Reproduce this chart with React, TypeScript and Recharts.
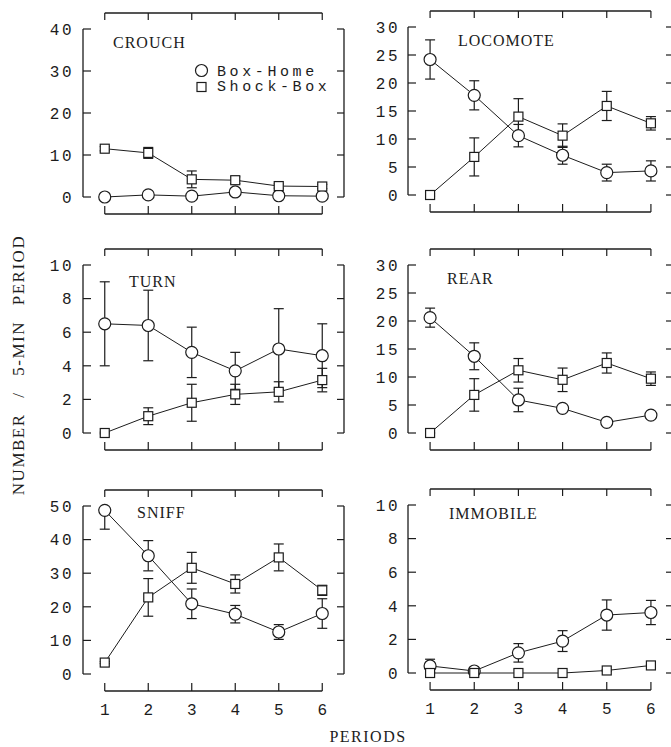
import React from 'react';
import { LineChart, Line, XAxis, YAxis, ErrorBar, ReferenceLine } from 'recharts';

// ---------- data ----------
const periods = [1, 2, 3, 4, 5, 6];
const seriesNames = ['Box-Home', 'Shock-Box'];
const xTitle = 'PERIODS';
const yTitle = 'NUMBER / 5-MIN PERIOD';

type Err = number | [number, number];

const crouchTicks = [0, 10, 20, 30, 40];
const crouchBoxHome = [0, 0.5, 0.2, 1.2, 0.3, 0.2];
const crouchBoxHomeErr: Err[] = [0.3, 0.3, 0.3, 0.4, 0.3, 0.3];
const crouchShockBox = [11.5, 10.5, 4.2, 4.0, 2.6, 2.5];
const crouchShockBoxErr: Err[] = [0.5, 1.3, 2.0, 0.8, 0.5, 0.5];

const locomoteTicks = [0, 5, 10, 15, 20, 25, 30];
const locomoteBoxHome = [24.2, 17.8, 10.6, 7.1, 4.0, 4.3];
const locomoteBoxHomeErr: Err[] = [3.5, 2.6, 2.0, 1.6, 1.5, 1.8];
const locomoteShockBox = [0, 6.8, 14.0, 10.6, 15.9, 12.8];
const locomoteShockBoxErr: Err[] = [0.2, 3.4, 3.2, 2.1, 2.6, 1.2];

const turnTicks = [0, 2, 4, 6, 8, 10];
const turnBoxHome = [6.5, 6.4, 4.8, 3.7, 5.0, 4.6];
const turnBoxHomeErr: Err[] = [2.5, 2.1, 1.5, 1.1, 2.4, 1.9];
const turnShockBox = [0, 1.0, 1.8, 2.3, 2.45, 3.15];
const turnShockBoxErr: Err[] = [0.05, 0.5, 1.1, 0.6, 0.6, 0.7];

const rearTicks = [0, 5, 10, 15, 20, 25, 30];
const rearBoxHome = [20.6, 13.7, 5.9, 4.4, 1.9, 3.2];
const rearBoxHomeErr: Err[] = [1.7, 2.4, 2.1, 0.5, 0.4, 0.5];
const rearShockBox = [0, 6.8, 11.2, 9.5, 12.5, 9.7];
const rearShockBoxErr: Err[] = [0.1, 2.9, 2.1, 2.1, 1.8, 1.2];

const sniffTicks = [0, 10, 20, 30, 40, 50];
const sniffBoxHome = [48.7, 35.2, 20.9, 17.8, 12.5, 18.0];
const sniffBoxHomeErr: Err[] = [[5.6, 0], 4.5, 4.4, 2.6, 2.2, 4.4];
const sniffShockBox = [3.4, 22.8, 31.6, 26.8, 34.7, 24.9];
const sniffShockBoxErr: Err[] = [0.3, 5.6, 4.6, 2.7, 4.0, 1.5];

const immobileTicks = [0, 2, 4, 6, 8, 10];
const immobileBoxHome = [0.42, 0.12, 1.2, 1.9, 3.45, 3.6];
const immobileBoxHomeErr: Err[] = [0.4, 0.15, 0.55, 0.62, 0.9, 0.72];
const immobileShockBox = [0, 0, 0, 0, 0.15, 0.45];
const immobileShockBoxErr: Err[] = [0.05, 0.05, 0, 0, 0.05, 0.05];

// ---------- style / layout ----------
const INK = '#1c1c1c';
const MONO = '"Liberation Mono", "DejaVu Sans Mono", monospace';
const SERIF = '"Liberation Serif", "DejaVu Serif", serif';
const TOP_PAD = 16;
const BOT_PAD = 17;
const SPAN = 168;
const PLOT_H = TOP_PAD + SPAN + BOT_PAD;
const M_TOP = 10;
const X_AXIS_H = 30;
const CHART_H = M_TOP + PLOT_H + X_AXIS_H + 5;
const EPS = 1e-4;

interface PanelSpec {
  title: string;
  ticks: number[];
  bh: number[];
  bhErr: Err[];
  sb: number[];
  sbErr: Err[];
  col: 0 | 1;
  plotTop: number;
  titleX: number;
  titleY: number;
  showX: boolean;
}

const panels: PanelSpec[] = [
  { title: 'CROUCH', ticks: crouchTicks, bh: crouchBoxHome, bhErr: crouchBoxHomeErr, sb: crouchShockBox, sbErr: crouchShockBoxErr, col: 0, plotTop: 13, titleX: 113, titleY: 48, showX: false },
  { title: 'LOCOMOTE', ticks: locomoteTicks, bh: locomoteBoxHome, bhErr: locomoteBoxHomeErr, sb: locomoteShockBox, sbErr: locomoteShockBoxErr, col: 1, plotTop: 11, titleX: 458, titleY: 46, showX: false },
  { title: 'TURN', ticks: turnTicks, bh: turnBoxHome, bhErr: turnBoxHomeErr, sb: turnShockBox, sbErr: turnShockBoxErr, col: 0, plotTop: 249, titleX: 129, titleY: 287, showX: false },
  { title: 'REAR', ticks: rearTicks, bh: rearBoxHome, bhErr: rearBoxHomeErr, sb: rearShockBox, sbErr: rearShockBoxErr, col: 1, plotTop: 249, titleX: 447, titleY: 284, showX: false },
  { title: 'SNIFF', ticks: sniffTicks, bh: sniffBoxHome, bhErr: sniffBoxHomeErr, sb: sniffShockBox, sbErr: sniffShockBoxErr, col: 0, plotTop: 490, titleX: 137, titleY: 518, showX: true },
  { title: 'IMMOBILE', ticks: immobileTicks, bh: immobileBoxHome, bhErr: immobileBoxHomeErr, sb: immobileShockBox, sbErr: immobileShockBoxErr, col: 1, plotTop: 489, titleX: 449, titleY: 519, showX: true },
];

const COLS = [
  { left: 0, yAxisW: 83, plotW: 261, gap: 9 },
  { left: 330, yAxisW: 78, plotW: 265, gap: 8 },
];

const SquareDot = (props: any) => {
  const { cx, cy, index } = props;
  if (cx == null || cy == null) return <g key={`sq-${index}`} />;
  const x = Number(cx);
  const y = Number(cy);
  return <rect key={`sq-${index}`} x={x - 4.5} y={y - 4.5} width={9} height={9} fill="#fff" stroke={INK} strokeWidth={1.2} />;
};

const CircleDot = (props: any) => {
  const { cx, cy, index } = props;
  if (cx == null || cy == null) return <g key={`ci-${index}`} />;
  return <circle key={`ci-${index}`} cx={Number(cx)} cy={Number(cy)} r={6} fill="#fff" stroke={INK} strokeWidth={1.2} />;
};

function Panel({ spec }: { spec: PanelSpec }) {
  const col = COLS[spec.col];
  const max = spec.ticks[spec.ticks.length - 1];
  const unit = max / SPAN;
  const yDomain: [number, number] = [-BOT_PAD * unit, max + TOP_PAD * unit];
  const xDomain: [number, number] = [0.5, 6.5];
  const data = periods.map((p, i) => ({
    p,
    bh: spec.bh[i],
    bhErr: spec.bhErr[i],
    sb: spec.sb[i],
    sbErr: spec.sbErr[i],
  }));
  const width = col.yAxisW + col.plotW + 10;
  const gap = col.gap;

  const leftTick = (p: any) => {
    const x = Number(p.x);
    const y = Number(p.y);
    const ax = x + gap;
    const rx = ax + col.plotW;
    return (
      <g key={`lt-${p.index}`}>
        <line x1={ax} x2={ax + 8} y1={y} y2={y} stroke={INK} strokeWidth={1.2} />
        <line x1={rx - 7} x2={rx} y1={y} y2={y} stroke={INK} strokeWidth={1.2} />
        <text x={x} y={y} dy="0.36em" textAnchor="end" fontFamily={MONO} fontSize={16} letterSpacing={2.5} fill={INK}>
          {p.payload.value}
        </text>
      </g>
    );
  };
  const bottomTick = (p: any) => {
    const x = Number(p.x);
    const ay = Number(p.y) - 13;
    const ty = ay - PLOT_H;
    return (
      <g key={`bt-${p.index}`}>
        <line x1={x} x2={x} y1={ay} y2={ay - 8} stroke={INK} strokeWidth={1.2} />
        <line x1={x} x2={x} y1={ty} y2={ty + 7} stroke={INK} strokeWidth={1.2} />
        {spec.showX && (
          <text x={x} y={ay + 24} textAnchor="middle" fontFamily={MONO} fontSize={16} fill={INK}>
            {p.payload.value}
          </text>
        )}
      </g>
    );
  };

  const axisStroke = { stroke: INK, strokeWidth: 1.3 };
  const xL = xDomain[0] + EPS;
  const xR = xDomain[1] - EPS;
  const yT = yDomain[1] - EPS * max;
  const yB = yDomain[0] + EPS * max;

  return (
    <div style={{ position: 'absolute', left: col.left, top: spec.plotTop - M_TOP }}>
      <LineChart width={width} height={CHART_H} data={data} margin={{ top: M_TOP, right: 10, bottom: 5, left: 0 }}>
        <XAxis dataKey="p" type="number" domain={xDomain} ticks={periods} interval={0} height={X_AXIS_H}
          tickSize={0} tickMargin={13} axisLine={false} tickLine={false} tick={bottomTick} allowDataOverflow />
        <YAxis type="number" domain={yDomain} ticks={spec.ticks} interval={0} width={col.yAxisW}
          tickSize={0} tickMargin={gap} axisLine={false} tickLine={false} tick={leftTick} allowDataOverflow />
        <ReferenceLine ifOverflow="visible" segment={[{ x: xL, y: 0 }, { x: xL, y: max }]} {...axisStroke} />
        <ReferenceLine ifOverflow="visible" segment={[{ x: xR, y: 0 }, { x: xR, y: max }]} {...axisStroke} />
        <ReferenceLine ifOverflow="visible" segment={[{ x: periods[0], y: yT }, { x: periods[periods.length - 1], y: yT }]} {...axisStroke} />
        <ReferenceLine ifOverflow="visible" segment={[{ x: periods[0], y: yB }, { x: periods[periods.length - 1], y: yB }]} {...axisStroke} />
        <Line dataKey="bh" name={seriesNames[0]} type="linear" stroke={INK} strokeWidth={1} dot={CircleDot}
          activeDot={false} isAnimationActive={false}>
          <ErrorBar dataKey="bhErr" direction="y" width={5} stroke={INK} strokeWidth={1.2} />
        </Line>
        <Line dataKey="sb" name={seriesNames[1]} type="linear" stroke={INK} strokeWidth={1} dot={SquareDot}
          activeDot={false} isAnimationActive={false}>
          <ErrorBar dataKey="sbErr" direction="y" width={5} stroke={INK} strokeWidth={1.2} />
        </Line>
      </LineChart>
    </div>
  );
}

export default function App() {
  return (
    <div style={{ position: 'absolute', left: 0, top: 0, width: 671, height: 747, overflow: 'hidden', background: '#fff' }}>
      {panels.map((s) => (
        <Panel key={s.title} spec={s} />
      ))}
      <svg width={671} height={747} style={{ position: 'absolute', left: 0, top: 0, pointerEvents: 'none' }}>
        {panels.map((s) => (
          <text key={`t-${s.title}`} x={s.titleX} y={s.titleY} fontFamily={SERIF} fontSize={16} letterSpacing={1} fill={INK}>
            {s.title}
          </text>
        ))}
        <circle cx={201.5} cy={70.5} r={6} fill="#fff" stroke={INK} strokeWidth={1.2} />
        <text x={217} y={75.5} fontFamily={MONO} fontSize={15} letterSpacing={3.6} fill={INK}>{seriesNames[0]}</text>
        <rect x={197} y={82.5} width={9} height={9} fill="#fff" stroke={INK} strokeWidth={1.2} />
        <text x={217} y={91} fontFamily={MONO} fontSize={15} letterSpacing={3.6} fill={INK}>{seriesNames[1]}</text>
        <text x={368} y={742} textAnchor="middle" fontFamily={SERIF} fontSize={16} letterSpacing={1.5} fill={INK}>{xTitle}</text>
        <text x={0} y={0} transform="translate(24 365) rotate(-90)" textAnchor="middle" fontFamily={SERIF} fontSize={17}
          letterSpacing={1.5} wordSpacing={10} fill={INK}>{yTitle}</text>
      </svg>
    </div>
  );
}
